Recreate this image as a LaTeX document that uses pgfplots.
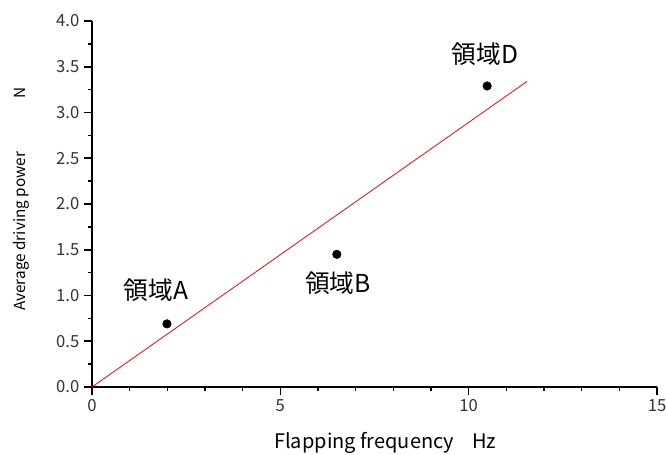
\documentclass[border=0pt]{standalone}
\usepackage{fontspec}
\setmainfont{Noto Sans CJK JP}
\usepackage{pgfplots}
\pgfplotsset{compat=1.18}
\begin{document}
\begin{tikzpicture}
\useasboundingbox (-69pt,-50.25pt) rectangle (430.5pt,290.25pt);
\begin{axis}[
  scale only axis,
  width=423.75pt, height=274.5pt,
  xmin=0, xmax=15, ymin=0, ymax=4,
  axis lines*=left,
  axis line style={line width=1.5pt, -},
  xtick={0,5,10,15},
  ytick={0,0.5,...,4.0},
  minor x tick num=4,
  minor y tick num=1,
  tick align=outside,
  major tick length=6pt,
  minor tick length=3pt,
  every tick/.style={black, line width=1.2pt},
  tick label style={font=\fontsize{12.5}{14}\selectfont, text=black!80},
  /pgf/number format/assume math mode=true,
  yticklabel style={/pgf/number format/.cd, fixed, fixed zerofill, precision=1},
  xticklabel style={/pgf/number format/.cd, fixed, precision=0},
  xlabel={Flapping frequency\hspace{0.9em}Hz},
  ylabel={Average driving power\hspace{3.5em}N},
  xlabel style={font=\fontsize{15}{16}\selectfont, at={(axis description cs:0.519,0)}, anchor=center, yshift=-42pt},
  ylabel style={font=\fontsize{11.5}{14}\selectfont, at={(axis description cs:0,0.514)}, anchor=center, yshift=53pt},
  clip=false,
]
\addplot[red, line width=0.6pt] coordinates {(0,0) (11.55,3.34)};
\addplot[only marks, mark=*, mark size=3.2pt, black] coordinates {(1.99,0.69) (6.5,1.45) (10.49,3.29)};
\node[font=\fontsize{18.5}{20}\selectfont] at (axis cs:1.7,1.06) {領域A};
\node[font=\fontsize{18.5}{20}\selectfont] at (axis cs:6.53,1.14) {領域B};
\node[font=\fontsize{18.5}{20}\selectfont] at (axis cs:10.43,3.64) {領域D};
\end{axis}
\end{tikzpicture}
\end{document}
